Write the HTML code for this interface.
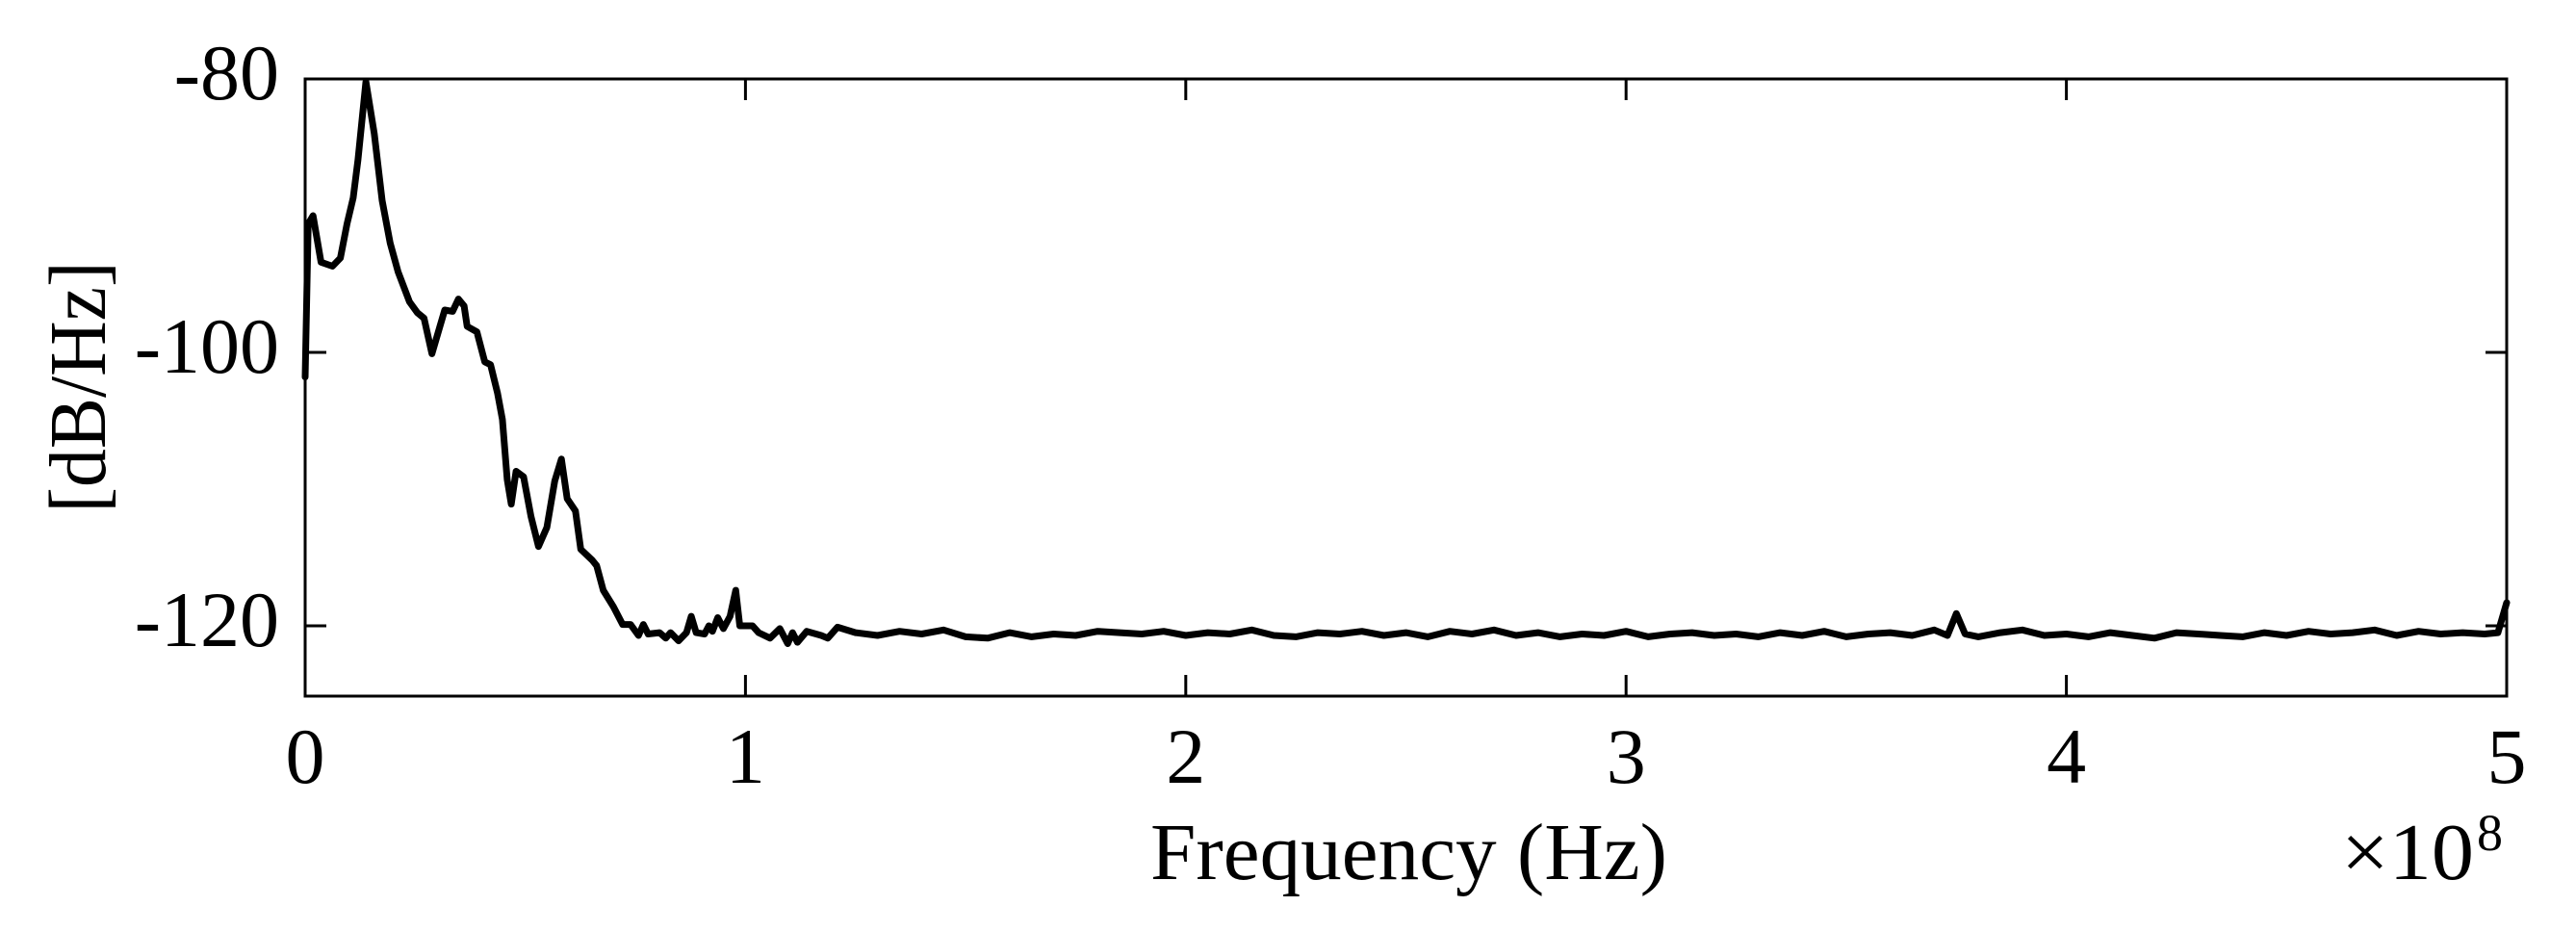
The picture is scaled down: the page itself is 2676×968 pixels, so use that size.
<!DOCTYPE html>
<html><head><meta charset="utf-8">
<style>
html,body{margin:0;padding:0;background:#fff;}
svg{display:block;}
text{font-family:"Liberation Serif","DejaVu Serif",serif;fill:#000;}
</style></head>
<body>
<svg id="chart" width="2676" height="968" viewBox="0 0 2676 968" xmlns="http://www.w3.org/2000/svg">
  <rect x="0" y="0" width="2676" height="968" fill="#fff"/>
  <g id="ticks"></g>
  <g id="labels"></g>
  <path id="series" fill="none" stroke="#000" stroke-width="7" stroke-linejoin="round" stroke-linecap="round"/>
  <rect x="317" y="82" width="2287" height="641" fill="none" stroke="#000" stroke-width="3"/>
  <text x="1195" y="913" font-size="84" textLength="537" lengthAdjust="spacingAndGlyphs">Frequency (Hz)</text>
  <text x="2432" y="913" font-size="84" textLength="138" lengthAdjust="spacingAndGlyphs">×10</text>
  <text x="2573" y="883" font-size="54">8</text>
  <text transform="translate(109,402) rotate(-90)" text-anchor="middle" font-size="84" textLength="261" lengthAdjust="spacingAndGlyphs">[dB/Hz]</text>
</svg>
<script>
const freq = [0,0.007,0.018,0.036,0.062,0.080,0.095,0.109,0.120,0.138,0.157,0.175,0.193,0.211,0.237,0.255,0.270,0.288,0.306,0.317,0.335,0.348,0.361,0.368,0.390,0.408,0.421,0.437,0.448,0.459,0.468,0.479,0.496,0.513,0.530,0.549,0.567,0.582,0.595,0.614,0.626,0.652,0.662,0.677,0.700,0.721,0.739,0.757,0.768,0.779,0.805,0.819,0.830,0.848,0.866,0.877,0.888,0.907,0.917,0.925,0.937,0.950,0.965,0.978,0.987,1.016,1.030,1.056,1.078,1.096,1.107,1.118,1.139,1.172,1.187,1.209,
1.25,1.30,1.35,1.40,1.45,1.50,1.55,1.60,1.65,1.70,1.75,1.80,1.85,1.90,1.95,2.00,2.05,2.10,2.15,2.20,2.25,2.30,2.35,2.40,2.45,2.50,2.55,2.60,2.65,2.70,2.75,2.80,2.85,2.90,2.95,3.00,3.05,3.10,3.15,3.20,3.25,3.30,3.35,3.40,3.45,3.50,3.55,3.60,3.65,3.70,3.73,3.75,3.77,3.80,3.85,3.90,3.95,4.00,4.05,4.10,4.15,4.20,4.25,4.30,4.35,4.40,4.45,4.50,4.55,4.60,4.65,4.70,4.75,4.80,4.85,4.90,4.95,4.98,5.00];
const psd = [-101.8,-90.6,-90.0,-93.4,-93.7,-93.1,-90.6,-88.7,-85.9,-80.2,-84.0,-88.9,-92.0,-94.1,-96.3,-97.1,-97.5,-100.1,-98.1,-96.9,-97.0,-96.1,-96.6,-98.1,-98.5,-100.7,-100.9,-103.0,-104.9,-109.3,-111.1,-108.7,-109.1,-112.0,-114.2,-112.8,-109.4,-107.8,-110.7,-111.6,-114.4,-115.2,-115.6,-117.4,-118.6,-119.9,-119.9,-120.7,-119.9,-120.6,-120.5,-120.9,-120.5,-121.1,-120.5,-119.3,-120.5,-120.6,-120.0,-120.4,-119.4,-120.2,-119.3,-117.4,-120.0,-120.0,-120.5,-120.9,-120.2,-121.3,-120.5,-121.2,-120.4,-120.7,-120.9,-120.1,
-120.5,-120.7,-120.4,-120.6,-120.3,-120.8,-120.9,-120.5,-120.8,-120.6,-120.7,-120.4,-120.5,-120.6,-120.4,-120.7,-120.5,-120.6,-120.3,-120.7,-120.8,-120.5,-120.6,-120.4,-120.7,-120.5,-120.8,-120.4,-120.6,-120.3,-120.7,-120.5,-120.8,-120.6,-120.7,-120.4,-120.8,-120.6,-120.5,-120.7,-120.6,-120.8,-120.5,-120.7,-120.4,-120.8,-120.6,-120.5,-120.7,-120.3,-120.7,-119.1,-120.6,-120.8,-120.5,-120.3,-120.7,-120.6,-120.8,-120.5,-120.7,-120.9,-120.5,-120.6,-120.7,-120.8,-120.5,-120.7,-120.4,-120.6,-120.5,-120.3,-120.7,-120.4,-120.6,-120.5,-120.6,-120.5,-118.3];
const xTicks = [0,1,2,3,4,5];
const xTickLabels = ["0","1","2","3","4","5"];
const yTicks = [-80,-100,-120];
const yTickLabels = ["-80","-100","-120"];

const L=317,R=2604,T=82,B=723,XMIN=0,XMAX=5,YMAX=-80,YMIN=-125.14;
function xs(v){return L+(v-XMIN)/(XMAX-XMIN)*(R-L);}
function ys(v){return T+(YMAX-v)/(YMAX-YMIN)*(B-T);}
const NS="http://www.w3.org/2000/svg";
let d="";
for(let i=0;i<freq.length;i++){d+=(i?"L":"M")+xs(freq[i]).toFixed(1)+","+ys(psd[i]).toFixed(1);}
document.getElementById('series').setAttribute('d',d);
const tg=document.getElementById('ticks'), lg=document.getElementById('labels');
function line(x1,y1,x2,y2,name){const l=document.createElementNS(NS,'line');
l.setAttribute('x1',x1);l.setAttribute('y1',y1);l.setAttribute('x2',x2);l.setAttribute('y2',y2);
l.setAttribute('stroke','#000');l.setAttribute('stroke-width','3');


tg.appendChild(l);}
const TL=22;
xTicks.forEach((v,i)=>{const x=xs(v);
 line(x,B,x,B-TL,'x-tick-bottom');line(x,T,x,T+TL,'x-tick-top');
 const t=document.createElementNS(NS,'text');t.setAttribute('x',x);t.setAttribute('y',813);
 t.setAttribute('text-anchor','middle');t.setAttribute('font-size','82');t.textContent=xTickLabels[i];
 
 
 lg.appendChild(t);});
yTicks.forEach((v,i)=>{const y=ys(v);
 line(L,y,L+TL,y,'y-tick-left');line(R,y,R-TL,y,'y-tick-right');
 const t=document.createElementNS(NS,'text');t.setAttribute('x',290);t.setAttribute('y',y+21);
 t.setAttribute('text-anchor','end');t.setAttribute('font-size','82');t.textContent=yTickLabels[i];
 
 
 lg.appendChild(t);});
</script>
</body></html>
